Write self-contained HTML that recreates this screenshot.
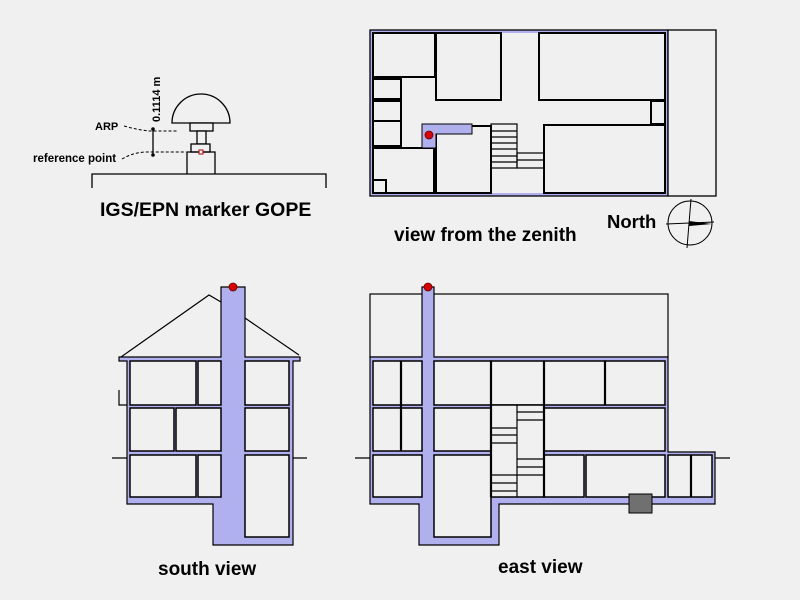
<!DOCTYPE html>
<html><head><style>
html,body{margin:0;padding:0;background:#f0f0f0;}
svg{display:block;font-family:"Liberation Sans",sans-serif;font-weight:bold;}
</style></head><body>
<svg width="800" height="600" viewBox="0 0 800 600" xmlns="http://www.w3.org/2000/svg">
<rect width="800" height="600" fill="#f0f0f0"/>
<!-- Marker -->
<g stroke="#000" stroke-width="1.3" fill="#f0f0f0">
<path d="M172,123 A29,29 0 0 1 230,123 Z"/>
<rect x="190" y="123" width="23" height="8"/>
<rect x="197" y="131" width="9" height="13"/>
<rect x="191" y="144" width="19" height="8"/>
<path d="M187,174 V152 H215 V174" fill="none"/>
<path d="M92,188 V174 H326 V188" fill="none"/>
<line x1="153" y1="128" x2="153" y2="155"/>
</g>
<rect x="199" y="150" width="4" height="4" fill="#f0f0f0" stroke="#a00" stroke-width="1"/>
<circle cx="153" cy="129" r="1.8"/><circle cx="153" cy="155" r="1.8"/>
<g stroke="#000" stroke-width="1" stroke-dasharray="3,2" fill="none">
<path d="M124,126 Q138,130 150,131 H178"/>
<path d="M122,159 Q132,153 145,152 H186"/>
</g>
<text x="95" y="130" font-size="11">ARP</text>
<text x="33" y="162" font-size="11.5">reference point</text>
<text transform="translate(160,122) rotate(-90)" font-size="11">0.1114 m</text>
<text x="100" y="216" font-size="19.5">IGS/EPN marker GOPE</text>

<!-- Zenith -->
<rect x="370" y="30" width="298" height="166" fill="#b0b0ee" stroke="#000" stroke-width="1.3"/>
<rect x="668" y="30" width="48" height="166" fill="#f0f0f0" stroke="#000" stroke-width="1.3"/>
<rect x="373" y="33" width="292" height="160" fill="#f0f0f0"/>
<g fill="#f0f0f0" stroke="#000" stroke-width="2">
<rect x="373" y="33" width="62" height="44"/>
<rect x="436" y="33" width="65" height="67"/>
<rect x="539" y="33" width="126" height="67"/>
<rect x="373" y="79" width="28" height="20"/>
<rect x="373" y="101" width="28" height="20"/>
<rect x="373" y="121" width="28" height="25"/>
<rect x="373" y="148" width="61" height="45"/>
<rect x="373" y="180" width="13" height="13"/>
<rect x="436" y="126" width="55" height="67"/>
<rect x="544" y="125" width="121" height="68"/>
<rect x="651" y="101" width="14" height="23"/>
<line x1="491" y1="126" x2="491" y2="193"/>
<line x1="544" y1="125" x2="544" y2="193"/>
</g>
<path d="M422,124 H472 V134 H436 V148 H422 Z" fill="#b0b0ee" stroke="#000" stroke-width="1"/>
<circle cx="429" cy="135" r="4" fill="#d00" stroke="#600" stroke-width="0.8"/>
<g stroke="#000" stroke-width="1.2" fill="none">
<rect x="491" y="124" width="26" height="44"/>
<rect x="517" y="153" width="27" height="15"/>
<line x1="517" y1="160" x2="544" y2="160"/>
<line x1="491" y1="131" x2="517" y2="131"/><line x1="491" y1="137" x2="517" y2="137"/>
<line x1="491" y1="143" x2="517" y2="143"/><line x1="491" y1="149" x2="517" y2="149"/>
<line x1="491" y1="156" x2="517" y2="156"/><line x1="491" y1="162" x2="517" y2="162"/>
</g>
<text x="607" y="228" font-size="18.5">North</text>
<g stroke="#000" stroke-width="1" fill="none">
<circle cx="690" cy="223" r="22"/>
<line x1="691" y1="199" x2="687" y2="248"/>
<line x1="666" y1="224" x2="714" y2="222"/>
</g>
<path d="M689,221 L712,224 L689,226 Z" fill="#000"/>
<text x="394" y="241" font-size="19">view from the zenith</text>

<!-- South view -->
<g stroke="#000" stroke-width="1.2">
<path d="M121,357 L209,295 L221,302" fill="none"/>
<path d="M245,318 L299,355" fill="none"/>
<path d="M127,361 V504 H213 V545 H293 V361 H300 V357 H245 V287 H221 V357 H119 V361 Z" fill="#b0b0ee"/>
<path d="M119,390 V405 H127 M112,458 H127 M293,458 H307" fill="none"/>
</g>
<g fill="#f0f0f0" stroke="#000" stroke-width="1.5">
<rect x="130" y="361" width="66" height="44"/><rect x="198" y="361" width="23" height="44"/>
<rect x="245" y="361" width="44" height="44"/>
<rect x="130" y="408" width="44" height="43"/><rect x="176" y="408" width="45" height="43"/>
<rect x="245" y="408" width="44" height="43"/>
<rect x="130" y="455" width="66" height="42"/><rect x="198" y="455" width="23" height="42"/>
<rect x="245" y="455" width="44" height="82"/>
</g>
<circle cx="233" cy="287" r="4" fill="#d00" stroke="#600" stroke-width="0.8"/>
<text x="158" y="575" font-size="19">south view</text>

<!-- East view -->
<g stroke="#000" stroke-width="1.2">
<rect x="370" y="294" width="298" height="63" fill="#f0f0f0"/>
<path d="M370,357 V504 H419 V545 H499 V504 H715 V452 H668 V357 H434 V287 H422 V357 Z" fill="#b0b0ee"/>
<path d="M355,458 H370 M715,458 H730" fill="none"/>
</g>
<g fill="#f0f0f0" stroke="#000" stroke-width="1.5">
<rect x="373" y="361" width="49" height="44"/>
<rect x="434" y="361" width="57" height="44"/><rect x="491" y="361" width="53" height="44"/>
<rect x="544" y="361" width="61" height="44"/><rect x="605" y="361" width="60" height="44"/>
<rect x="373" y="408" width="49" height="43"/>
<rect x="434" y="408" width="57" height="43"/>
<rect x="544" y="408" width="121" height="43"/>
<rect x="373" y="455" width="49" height="42"/>
<rect x="434" y="455" width="57" height="82"/>
<rect x="544" y="455" width="40" height="42"/><rect x="586" y="455" width="79" height="42"/>
<rect x="668" y="455" width="44" height="42"/>
<rect x="491" y="405" width="53" height="92"/>
</g>
<g stroke="#000" stroke-width="2.2"><line x1="401" y1="361" x2="401" y2="451"/><line x1="691" y1="455" x2="691" y2="497"/>
<line x1="491" y1="361" x2="491" y2="497"/><line x1="544" y1="361" x2="544" y2="497"/><line x1="605" y1="361" x2="605" y2="405"/></g>
<g stroke="#000" stroke-width="1.2">
<line x1="517" y1="405" x2="517" y2="497"/>
<line x1="517" y1="412" x2="544" y2="412"/><line x1="517" y1="420" x2="544" y2="420"/>
<line x1="491" y1="428" x2="517" y2="428"/><line x1="491" y1="435" x2="517" y2="435"/><line x1="491" y1="443" x2="517" y2="443"/>
<line x1="517" y1="459" x2="544" y2="459"/><line x1="517" y1="467" x2="544" y2="467"/><line x1="517" y1="475" x2="544" y2="475"/>
<line x1="491" y1="475" x2="517" y2="475"/><line x1="491" y1="483" x2="517" y2="483"/><line x1="491" y1="491" x2="517" y2="491"/>
</g>
<rect x="629" y="494" width="23" height="19" fill="#707070" stroke="#000" stroke-width="1"/>
<circle cx="428" cy="287" r="4" fill="#d00" stroke="#600" stroke-width="0.8"/>
<text x="498" y="573" font-size="19">east view</text>
</svg>
</body></html>
